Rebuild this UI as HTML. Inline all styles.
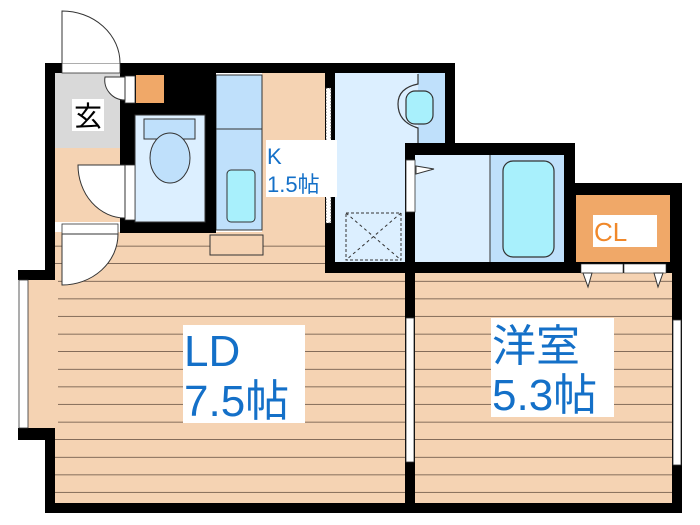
<!DOCTYPE html>
<html><head><meta charset="utf-8"><style>
html,body{margin:0;padding:0;background:#fff;width:700px;height:525px;overflow:hidden}
svg{display:block}
text{font-family:"Liberation Sans","Noto Sans CJK JP",sans-serif}
</style></head><body>
<svg width="700" height="525" viewBox="0 0 700 525" xmlns="http://www.w3.org/2000/svg">
<defs>
<pattern id="fl" x="0" y="264" width="10" height="17.6" patternUnits="userSpaceOnUse">
<rect width="10" height="17.6" fill="#f5d3b3"/>
<rect y="17" width="10" height="1.2" fill="#3a2a20"/>
</pattern>
</defs>
<rect x="55" y="232" width="350" height="271" fill="url(#fl)"/>
<rect x="28" y="280" width="30" height="148" fill="#f5d3b3"/>
<rect x="415" y="273" width="257" height="230" fill="url(#fl)"/>
<rect x="55" y="73" width="70" height="75" fill="#d9d9d9"/>
<rect x="55" y="148" width="70" height="74" fill="#f5d3b3"/>
<rect x="262" y="73" width="63" height="160" fill="#f5d3b3"/>
<rect x="216" y="75" width="46" height="155" fill="#bfe0fb" stroke="#333" stroke-width="1"/>
<line x1="216" y1="129" x2="262" y2="129" stroke="#333"/>
<rect x="227" y="170" width="28" height="52" rx="4" fill="#a8f0fc" stroke="#333"/>
<rect x="210" y="235" width="53" height="20" fill="#f5d3b3" stroke="#333" stroke-width="1"/>
<rect x="45" y="63" width="410" height="10" fill="#000"/>
<rect x="45" y="63" width="10" height="217" fill="#000"/>
<rect x="45" y="428" width="10" height="85" fill="#000"/>
<rect x="120" y="73" width="96" height="42" fill="#000"/>
<rect x="120" y="73" width="15" height="160" fill="#000"/>
<rect x="205" y="73" width="11" height="160" fill="#000"/>
<rect x="120" y="222" width="96" height="11" fill="#000"/>
<rect x="136" y="75" width="28" height="28" fill="#f0a868"/>
<rect x="135" y="115" width="70" height="107" fill="#dcefff" stroke="#333"/>
<rect x="144" y="119" width="51" height="20" fill="#bfe0fb" stroke="#333"/>
<ellipse cx="170" cy="158" rx="20" ry="25" fill="#bfe0fb" stroke="#333"/>
<rect x="62" y="63" width="58" height="10" fill="#fff" stroke="#333" stroke-width="0.8"/>
<path d="M62 63 V11 A58 52 0 0 1 120 63" fill="#fff" stroke="#333"/>
<rect x="125" y="76" width="10" height="27" fill="#fff" stroke="#333" stroke-width="0.8"/>
<path d="M125 77 H105 A20 20 0 0 0 125 100 Z" fill="#fff" stroke="#333"/>
<rect x="125" y="165" width="10" height="55" fill="#fff" stroke="#333" stroke-width="0.8"/>
<path d="M125 165 H78 A47 53 0 0 0 125 218 Z" fill="#fff" stroke="#333"/>
<rect x="62" y="224" width="56" height="10" fill="#fff" stroke="#333" stroke-width="0.8"/>
<path d="M62 234 V285 A56 51 0 0 0 118 234 Z" fill="#fff" stroke="#333"/>
<rect x="325" y="63" width="130" height="210" fill="#000"/>
<rect x="335" y="73" width="110" height="189" fill="#dcefff"/>
<rect x="418" y="73" width="27" height="70" fill="#bfe0fb"/>
<path d="M418 74 V84 Q398 88 398 104 Q398 122 418 128 V143" fill="none" stroke="#333" stroke-width="1.2"/>
<rect x="406" y="91" width="27" height="33" rx="9" fill="#a8f0fc" stroke="#333" stroke-width="1.2"/>
<rect x="346" y="213" width="55" height="47" fill="none" stroke="#333" stroke-dasharray="3,2"/>
<path d="M346 213 L401 260 M401 213 L346 260" stroke="#333" stroke-dasharray="3,3"/>
<rect x="326" y="88" width="5" height="135" fill="#fff" stroke="#333" stroke-dasharray="1.5,1.5" stroke-width="0.8"/>
<rect x="405" y="143" width="170" height="130" fill="#000"/>
<rect x="415" y="155" width="149" height="107" fill="#dcefff"/>
<rect x="490" y="155" width="74" height="107" fill="#bfe0fb"/>
<line x1="490" y1="155" x2="490" y2="262" stroke="#333"/>
<rect x="503" y="161" width="51" height="96" rx="10" fill="#a8f0fc" stroke="#333" stroke-width="1.2"/>
<rect x="406" y="160" width="9" height="52" fill="#fff" stroke="#333" stroke-width="0.8"/>
<path d="M416 166 L434 169 L416 174 Z" fill="#fff" stroke="#333"/>
<rect x="565" y="183" width="117" height="90" fill="#000"/>
<rect x="576" y="195" width="94" height="67" fill="#f0a868"/>
<rect x="593" y="215" width="64" height="32" fill="#fff"/>
<text x="594" y="241" font-size="26" fill="#f0882a">CL</text>
<rect x="581" y="264" width="42" height="9" fill="#fff" stroke="#333" stroke-width="0.6"/>
<rect x="624" y="264" width="42" height="9" fill="#fff" stroke="#333" stroke-width="0.6"/>
<path d="M583 273 L592 273 L588 287 Z M654 273 L663 273 L658 287 Z" fill="#fff" stroke="#333"/>
<rect x="405" y="262" width="10" height="251" fill="#000"/>
<rect x="406" y="318" width="8" height="144" fill="#fff" stroke="#333" stroke-width="0.8"/>
<rect x="672" y="183" width="10" height="330" fill="#000"/>
<rect x="673" y="320" width="8" height="145" fill="#fff" stroke="#333" stroke-width="0.8"/>
<rect x="45" y="503" width="637" height="10" fill="#000"/>
<rect x="18" y="270" width="37" height="10" fill="#000"/>
<rect x="18" y="428" width="37" height="12" fill="#000"/>
<rect x="19" y="280" width="9" height="148" fill="#fff" stroke="#333" stroke-width="0.8"/>
<rect x="266" y="140" width="71" height="57" fill="#fff"/>
<text x="267" y="164" font-size="22" fill="#1470c8">K</text>
<text x="267" y="192" font-size="22" fill="#1470c8">1.5帖</text>
<rect x="72" y="99" width="32" height="32" fill="#fff"/>
<text x="74" y="126" font-size="28" fill="#000">玄</text>
<rect x="183" y="325" width="122" height="98" fill="#fff"/>
<text x="184" y="366" font-size="44" fill="#1470c8">LD</text>
<text x="184" y="416" font-size="44" fill="#1470c8">7.5帖</text>
<rect x="491" y="318" width="123" height="99" fill="#fff"/>
<text x="492" y="361" font-size="44" fill="#1470c8">洋室</text>
<text x="492" y="410" font-size="44" fill="#1470c8">5.3帖</text>
</svg>
</body></html>
